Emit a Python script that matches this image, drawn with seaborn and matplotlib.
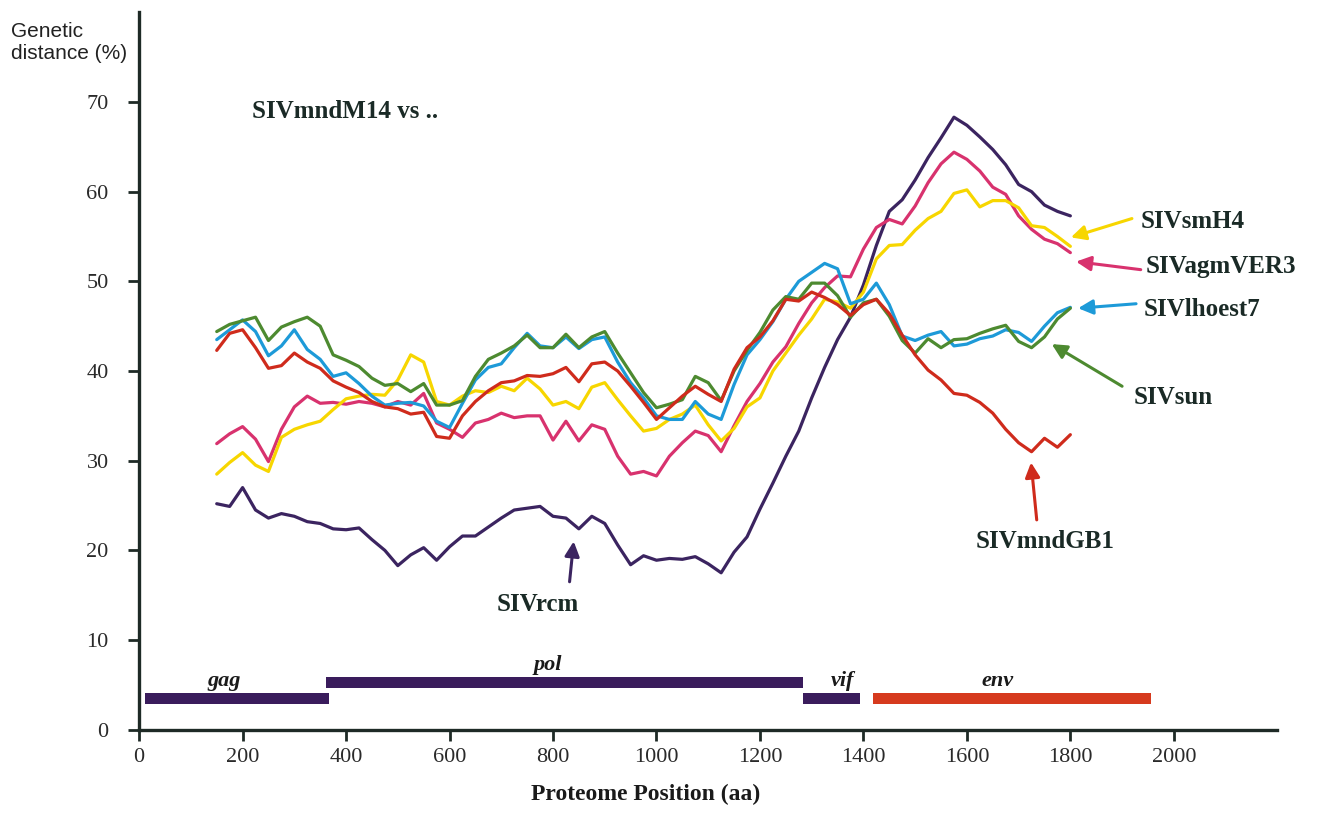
import pandas as pd
import matplotlib
matplotlib.use("Agg")
import matplotlib.pyplot as plt
import seaborn as sns

# proteome positions (aa) for the sliding window
positions = list(range(150, 1801, 25))

# genetic distance (%) of SIVmndM14 vs each virus
rcm = [25.2, 24.9, 27.0, 24.5, 23.6, 24.1, 23.8, 23.2, 23.0, 22.4,
       22.3, 22.5, 21.2, 20.0, 18.3, 19.5, 20.3, 18.9, 20.4, 21.6,
       21.6, 22.6, 23.6, 24.5, 24.7, 24.9, 23.8, 23.6, 22.4, 23.8,
       23.0, 20.6, 18.4, 19.4, 18.9, 19.1, 19.0, 19.3, 18.5, 17.5,
       19.8, 21.5, 24.6, 27.5, 30.5, 33.3, 37.0, 40.4, 43.5, 46.0,
       49.6, 54.0, 57.8, 59.1, 61.3, 63.8, 66.0, 68.3, 67.4, 66.1,
       64.7, 63.0, 60.8, 60.0, 58.5, 57.8, 57.3]
agm = [31.9, 33.0, 33.8, 32.4, 29.9, 33.5, 36.0, 37.2, 36.4, 36.5,
       36.3, 36.6, 36.4, 36.0, 36.6, 36.2, 37.5, 34.2, 33.5, 32.6,
       34.2, 34.6, 35.3, 34.8, 35.0, 35.0, 32.3, 34.4, 32.2, 34.0,
       33.5, 30.5, 28.5, 28.8, 28.3, 30.5, 32.0, 33.3, 32.8, 31.0,
       33.9, 36.6, 38.6, 41.0, 42.7, 45.3, 47.6, 49.3, 50.6, 50.5,
       53.6, 56.0, 56.9, 56.4, 58.4, 61.0, 63.1, 64.4, 63.6, 62.3,
       60.5, 59.7, 57.3, 55.8, 54.7, 54.2, 53.2]
smh4 = [28.5, 29.8, 30.9, 29.5, 28.8, 32.6, 33.5, 34.0, 34.4, 35.7,
        36.9, 37.2, 37.4, 37.3, 39.0, 41.8, 41.0, 36.6, 36.2, 37.2,
        37.8, 37.6, 38.3, 37.8, 39.2, 38.0, 36.2, 36.6, 35.8, 38.2,
        38.7, 36.8, 35.0, 33.3, 33.6, 34.6, 35.2, 36.2, 34.0, 32.2,
        33.6, 36.0, 37.0, 40.0, 42.0, 44.0, 45.8, 48.0, 47.7, 47.0,
        48.8, 52.5, 54.0, 54.1, 55.7, 57.0, 57.8, 59.8, 60.2, 58.3,
        59.0, 59.0, 58.2, 56.2, 56.0, 55.0, 53.9]
lhoest = [43.5, 44.6, 45.7, 44.4, 41.7, 42.8, 44.6, 42.4, 41.3, 39.4,
          39.8, 38.6, 37.2, 36.2, 36.4, 36.5, 36.1, 34.4, 33.7, 36.4,
          39.0, 40.4, 40.8, 42.6, 44.2, 42.8, 42.6, 43.8, 42.5, 43.5,
          43.8, 41.0, 38.7, 37.0, 35.0, 34.6, 34.6, 36.6, 35.2, 34.6,
          38.5, 41.8, 43.5, 45.5, 48.0, 50.0, 51.0, 52.0, 51.4, 47.5,
          48.0, 49.8, 47.4, 43.9, 43.4, 44.0, 44.4, 42.8, 43.0, 43.6,
          43.9, 44.6, 44.3, 43.3, 45.0, 46.5, 47.1]
sun = [44.4, 45.2, 45.6, 46.0, 43.4, 44.9, 45.5, 46.0, 45.0, 41.8,
       41.2, 40.5, 39.2, 38.4, 38.6, 37.7, 38.6, 36.2, 36.2, 36.7,
       39.4, 41.3, 42.0, 42.8, 44.0, 42.6, 42.6, 44.1, 42.6, 43.8,
       44.4, 42.0, 39.8, 37.6, 35.9, 36.3, 36.8, 39.4, 38.7, 36.7,
       40.0, 42.3, 44.3, 46.8, 48.3, 48.0, 49.8, 49.8, 48.4, 46.0,
       47.6, 48.0, 46.1, 43.4, 42.0, 43.6, 42.6, 43.5, 43.6, 44.2,
       44.7, 45.1, 43.3, 42.6, 43.8, 45.8, 47.0]
gb1 = [42.3, 44.2, 44.6, 42.6, 40.3, 40.6, 42.0, 41.0, 40.3, 38.9,
       38.2, 37.6, 36.6, 36.0, 35.8, 35.2, 35.4, 32.7, 32.5, 35.0,
       36.6, 37.8, 38.7, 38.9, 39.5, 39.4, 39.7, 40.4, 38.8, 40.8,
       41.0, 40.0, 38.3, 36.5, 34.6, 35.9, 37.2, 38.3, 37.4, 36.6,
       40.2, 42.6, 43.8, 45.6, 48.0, 47.8, 48.8, 48.2, 47.4, 46.2,
       47.4, 48.0, 46.4, 44.0, 41.8, 40.1, 39.0, 37.5, 37.3, 36.5,
       35.3, 33.5, 32.0, 31.0, 32.5, 31.5, 32.9]

viruses = ["SIVrcm", "SIVagmVER3", "SIVsmH4", "SIVlhoest7", "SIVsun", "SIVmndGB1"]
colors = ["#3b2460", "#d8326e", "#f7d600", "#1d9ad8", "#4d8a30", "#cf2b1c"]

# genome regions along the proteome
genes = ["gag", "pol", "vif", "env"]
gene_start = [12, 362, 1284, 1419]
gene_end = [367, 1284, 1394, 1956]
gene_level = [3.5, 5.3, 3.5, 3.5]
gene_label_x = [165, 790, 1360, 1660]
gene_colors = ["#3a1c5c", "#3a1c5c", "#3a1c5c", "#d63a1e"]

df = pd.DataFrame({
    "position": positions * 6,
    "distance": rcm + agm + smh4 + lhoest + sun + gb1,
    "virus": [v for v in viruses for _ in positions],
})

sns.set_style("ticks")
plt.rcParams["font.family"] = ["Liberation Serif", "DejaVu Serif"]

fig = plt.figure(figsize=(13.25, 8.19), dpi=100)
ax = fig.add_axes([0.105, 0.109, 0.859, 0.876])

sns.lineplot(data=df, x="position", y="distance", hue="virus", hue_order=viruses,
             palette=colors, legend=False, linewidth=2.3, ax=ax)

# gene bars
for g, s, e, lvl, lx, c in zip(genes, gene_start, gene_end, gene_level, gene_label_x, gene_colors):
    ax.barh(lvl, e - s, left=s, height=1.2, color=c, edgecolor="none")
    ax.text(lx, lvl + 1.9, g, ha="center", va="center",
            fontsize=16, fontstyle="italic", fontweight="bold", color="#1a1a1a")

ax.set_xlim(0, 2200)
ax.set_ylim(0, 80)
ax.set_xticks(range(0, 2001, 200))
ax.set_yticks(range(0, 71, 10))
ax.tick_params(axis="both", labelsize=16, length=8, width=2, color="#1e2a26",
               labelcolor="#2a2a2a", direction="out")
ax.tick_params(axis="y", pad=14)
ax.tick_params(axis="x", pad=5)
sns.despine(ax=ax)
for sp in ["left", "bottom"]:
    ax.spines[sp].set_linewidth(2.4)
    ax.spines[sp].set_color("#1e2a26")

ax.set_xlabel("Proteome Position (aa)", fontsize=17, fontweight="bold", labelpad=9,
              color="#1a1a1a")
ax.xaxis.set_label_coords(0.445, -0.075)
ax.set_ylabel("")
fig.text(0.008, 0.948, "Genetic\ndistance (%)", ha="left", va="center", fontsize=15,
         family="Liberation Sans", color="#222222", linespacing=1.2)

ax.text(218, 68.9, "SIVmndM14 vs ..", fontsize=18, fontweight="bold", va="center",
        color="#1a2a26")

# labels with arrows
labels = [
    ("SIVsmH4", (1936, 56.7), (1919, 57.0), (1801, 54.9), colors[2]),
    ("SIVagmVER3", (1946, 51.6), (1936, 51.3), (1811, 52.2), colors[1]),
    ("SIVlhoest7", (1942, 46.9), (1927, 47.5), (1815, 47.0), colors[3]),
    ("SIVsun", (1923, 37.1), (1900, 38.3), (1764, 43.0), colors[4]),
    ("SIVmndGB1", (1616, 21.0), (1735, 23.4), (1724, 29.8), colors[5]),
    ("SIVrcm", (691, 14.0), (832, 16.5), (840, 21.0), colors[0]),
]
for name, tpos, tail, head, c in labels:
    ax.text(tpos[0], tpos[1], name, fontsize=18, fontweight="bold", va="center",
            ha="left", color="#1a2a26")
    ax.annotate("", xy=head, xytext=tail,
                arrowprops=dict(arrowstyle="-|>", color=c, lw=2.2, mutation_scale=22,
                                shrinkA=0, shrinkB=0))

fig.savefig("out.png", dpi=100)
